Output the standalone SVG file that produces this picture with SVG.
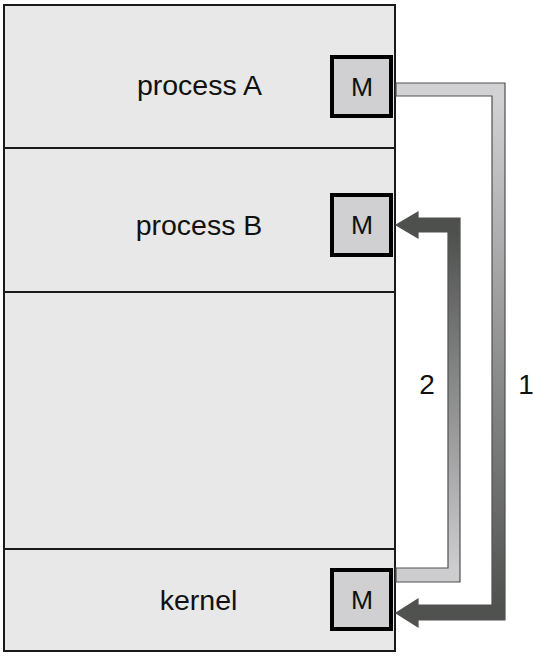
<svg xmlns="http://www.w3.org/2000/svg" width="533" height="658" viewBox="0 0 533 658">
  <style>
    .region { fill: #e8e8e8; stroke: #1a1a1a; stroke-width: 2; }
    .mbox { fill: #d0d0d2; stroke: #000000; stroke-width: 4; }
    .label { font-family: "Liberation Sans", Arial, sans-serif; font-size: 28.5px; fill: #111111; text-anchor: middle; }
    .mlabel { font-family: "Liberation Sans", Arial, sans-serif; font-size: 26.5px; fill: #111111; text-anchor: middle; }
    .num { font-family: "Liberation Sans", Arial, sans-serif; font-size: 28px; fill: #111111; text-anchor: middle; }
    .arrow { stroke: #505050; stroke-width: 1.2; stroke-linejoin: miter; }
  </style>
  <defs>
    <linearGradient id="g1" gradientUnits="userSpaceOnUse" x1="0" y1="96" x2="0" y2="605">
      <stop offset="0" stop-color="#d2d1d4"/>
      <stop offset="1" stop-color="#505250"/>
    </linearGradient>
    <linearGradient id="g2" gradientUnits="userSpaceOnUse" x1="0" y1="568" x2="0" y2="232">
      <stop offset="0" stop-color="#cdcccf"/>
      <stop offset="1" stop-color="#4e504e"/>
    </linearGradient>
  </defs>
  <rect x="0" y="0" width="533" height="658" fill="#ffffff"/>

  <g id="processA">
    <rect class="region" x="4" y="5" width="391" height="143"/>
    <text class="label" x="199.5" y="95">process A</text>
    <rect class="mbox" x="332" y="57" width="59" height="59"/>
    <text class="mlabel" x="362" y="96">M</text>
  </g>

  <g id="processB">
    <rect class="region" x="4" y="148" width="391" height="144"/>
    <text class="label" x="199" y="235">process B</text>
    <rect class="mbox" x="332" y="195" width="59" height="60"/>
    <text class="mlabel" x="362" y="234">M</text>
  </g>

  <g id="free">
    <rect class="region" x="4" y="292" width="391" height="257"/>
  </g>

  <g id="kernel">
    <rect class="region" x="4" y="549" width="391" height="102"/>
    <text class="label" x="198.5" y="610">kernel</text>
    <rect class="mbox" x="332" y="570" width="59" height="59"/>
    <text class="mlabel" x="362" y="609">M</text>
  </g>

  <g id="connectors">
    <polygon class="arrow" fill="url(#g1)" points="396,83 505,83 505,620 418,620 418,627 396,613 418,599 418,605 492,605 492,96 396,96"/>
    <polygon class="arrow" fill="url(#g2)" points="396,582 460,582 460,218 418,218 418,212 396,225 418,238 418,232 448,232 448,568 396,568"/>
    <text class="num" x="427" y="394">2</text>
    <text class="num" x="526" y="394">1</text>
  </g>
</svg>
